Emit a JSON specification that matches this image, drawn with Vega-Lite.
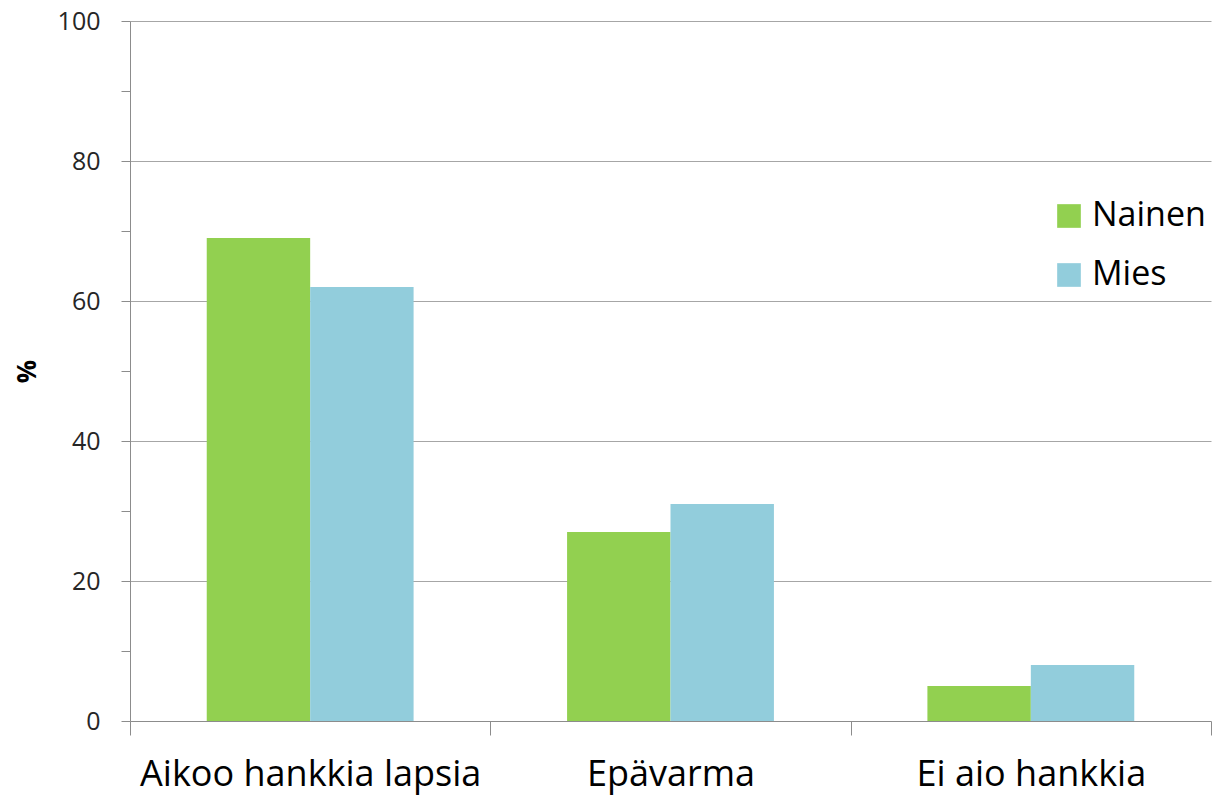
{
  "$schema": "https://vega.github.io/schema/vega-lite/v6.json",
  "autosize": {"type": "none"},
  "padding": {"left": 130, "top": 21, "right": 2, "bottom": 74},
  "width": 1081,
  "height": 700,
  "background": "white",
  "config": {
    "view": {"stroke": null},
    "font": "Open Sans"
  },
  "data": {
    "values": [
      {"kategoria": "Aikoo hankkia lapsia", "sukupuoli": "Nainen", "prosentti": 69},
      {"kategoria": "Aikoo hankkia lapsia", "sukupuoli": "Mies", "prosentti": 62},
      {"kategoria": "Epävarma", "sukupuoli": "Nainen", "prosentti": 27},
      {"kategoria": "Epävarma", "sukupuoli": "Mies", "prosentti": 31},
      {"kategoria": "Ei aio hankkia", "sukupuoli": "Nainen", "prosentti": 5},
      {"kategoria": "Ei aio hankkia", "sukupuoli": "Mies", "prosentti": 8}
    ]
  },
  "mark": {"type": "bar"},
  "encoding": {
    "x": {
      "field": "kategoria",
      "type": "nominal",
      "sort": ["Aikoo hankkia lapsia", "Epävarma", "Ei aio hankkia"],
      "scale": {"paddingInner": 0, "paddingOuter": 0},
      "axis": {
        "title": null,
        "labelAngle": 0,
        "labelLimit": 0,
        "tickBand": "extent",
        "tickSize": 14,
        "tickColor": "#8c8c8c",
        "domainColor": "#8c8c8c",
        "labelFontSize": 36,
        "labelColor": "#000000",
        "labelPadding": 22,
        "grid": false
      }
    },
    "xOffset": {
      "field": "sukupuoli",
      "type": "nominal",
      "sort": ["Nainen", "Mies"],
      "scale": {"paddingInner": 0, "paddingOuter": 0.742}
    },
    "y": {
      "field": "prosentti",
      "type": "quantitative",
      "scale": {"domain": [0, 100], "nice": false},
      "axis": {
        "title": "%",
        "titleFontSize": 26,
        "titleFontWeight": "bold",
        "titleColor": "#000000",
        "titlePadding": 17,
        "values": [0, 10, 20, 30, 40, 50, 60, 70, 80, 90, 100],
        "labelExpr": "datum.value % 20 == 0 ? datum.label : ''",
        "labelFontSize": 25,
        "labelColor": "#262626",
        "labelPadding": 21,
        "tickSize": 9,
        "tickColor": "#8c8c8c",
        "domainColor": "#8c8c8c",
        "grid": true,
        "gridColor": "#a6a6a6",
        "gridOpacity": {"condition": {"test": "datum.value % 20 == 0 && datum.value > 0", "value": 1}, "value": 0}
      }
    },
    "color": {
      "field": "sukupuoli",
      "type": "nominal",
      "sort": ["Nainen", "Mies"],
      "scale": {"domain": ["Nainen", "Mies"], "range": ["#92D050", "#92CDDC"]},
      "legend": {
        "title": null,
        "orient": "none",
        "legendX": 922,
        "legendY": 178,
        "symbolType": "square",
        "symbolSize": 560,
        "symbolStrokeWidth": 0,
        "labelFontSize": 34,
        "labelColor": "#000000",
        "labelOffset": 6,
        "rowPadding": 25
      }
    }
  }
}
